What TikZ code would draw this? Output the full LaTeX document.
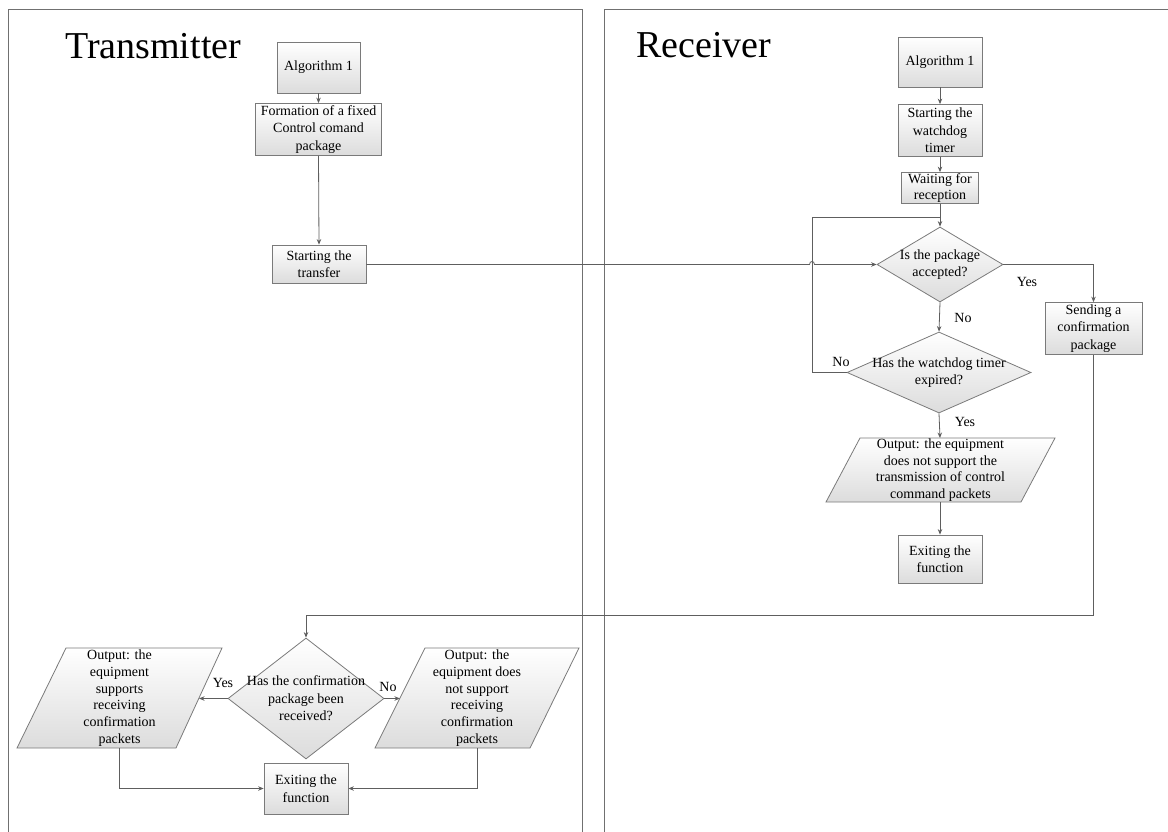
\documentclass[tikz,border=0pt]{standalone}
\usepackage{fontspec}
\setmainfont{Liberation Serif}
\usetikzlibrary{shapes.geometric,arrows.meta}
\definecolor{linegray}{HTML}{5E5E5E}
\definecolor{boxgray}{HTML}{7A7A7A}
\definecolor{shadegray}{HTML}{DCDCDC}
\definecolor{panelgray}{HTML}{707070}
\begin{document}
\begin{tikzpicture}[x=1pt,y=-1pt,
  fbase/.style={font=\fontsize{14}{17.5}\selectfont, align=center},
  fill shade/.style={draw=boxgray, line width=0.8pt, top color=white, bottom color=shadegray},
  box/.style={fbase, fill shade, rectangle, inner sep=0.5pt},
  dia/.style={fill shade, diamond, inner sep=0pt},
  txt/.style={fbase, inner sep=0pt},
  lbl/.style={font=\fontsize{14}{17}\selectfont, inner sep=0pt},
  title/.style={font=\fontsize{38}{45}\selectfont, inner sep=0pt, anchor=base west},
  conn/.style={draw=linegray, line width=0.8pt},
  arr/.style={conn, -{Stealth[length=5.5pt,width=4.5pt]}},
  panel/.style={draw=panelgray, line width=0.9pt}
]
\useasboundingbox (0,0) rectangle (1168,832);
\clip (0,0) rectangle (1168,832);

% panels
\draw[panel] (8,9) rectangle (582,850);
\draw[panel] (604,9) rectangle (1190,850);
\node[title] (ttitle) at (65,59) {Transmitter};
\node[title] (rtitle) at (636,58) {Receiver};

% transmitter top
\node[box, minimum width=83, minimum height=51] (tA) at (318.5,67.5) {Algorithm 1};
\node[box, minimum width=126, minimum height=52] (tF) at (318.5,129.5) {Formation of a fixed\\Control comand\\package};
\node[box, minimum width=94, minimum height=38] (tS) at (319,264) {Starting the\\transfer};

% receiver
\node[box, minimum width=84, minimum height=50] (rA) at (940,62) {Algorithm 1};
\node[box, minimum width=84, minimum height=52] (rW) at (940,130.5) {Starting the\\watchdog\\timer};
\node[box, font=\fontsize{14}{15.5}\selectfont, minimum width=77, minimum height=31] (rR) at (940,188) {Waiting for\\reception};
\node[dia, minimum width=126, minimum height=75] (rP) at (940,264.5) {};
\node[txt] at (rP) {Is the package\\accepted?};
\node[dia, minimum width=184, minimum height=81] (rT) at (939,372.5) {};
\node[txt] at (rT) {Has the watchdog timer\\expired?};
\node[box, minimum width=97, minimum height=52] (rC) at (1093.5,328.5) {Sending a\\confirmation\\package};
\path[fill shade] (860,438) -- (1055,438) -- (1021,502) -- (826,502) -- cycle;
\node[txt, font=\fontsize{14}{16.5}\selectfont] (rO) at (940.5,470) {Output: the equipment\\does not support the\\transmission of control\\command packets};
\coordinate (rOn) at (940,438);
\coordinate (rOs) at (940,502);
\node[box, minimum width=84, minimum height=48] (rE) at (940,559) {Exiting the\\function};

% transmitter bottom
\node[dia, minimum width=156, minimum height=121] (tD) at (306,698.5) {};
\node[txt] at (tD) {Has the confirmation\\package been\\received?};
\path[fill shade] (66,648) -- (222,648) -- (176,748) -- (17,748) -- cycle;
\node[txt, font=\fontsize{14}{16.7}\selectfont] (tY) at (119.5,698) {Output: the\\equipment\\supports\\receiving\\confirmation\\packets};
\coordinate (tYe) at (199,698.5);
\coordinate (tYs) at (119,748);
\path[fill shade] (425,648) -- (579,648) -- (530,748) -- (375,748) -- cycle;
\node[txt, font=\fontsize{14}{16.7}\selectfont] (tN) at (477,698) {Output: the\\equipment does\\not support\\receiving\\confirmation\\packets};
\coordinate (tNw) at (400,698.5);
\coordinate (tNs) at (477,748);
\node[box, minimum width=84, minimum height=51] (tE) at (306,788.5) {Exiting the\\function};

% coordinates
\coordinate (j) at (940,217);
\coordinate (lc) at (812,217);
\coordinate (k) at (1093.5,615);
\coordinate (hopA) at (809.5,264.5);
\coordinate (hopB) at (814.5,264.5);

% connectors transmitter
\draw[arr] (tA.south) -- (tF.north);
\draw[arr] (tF.south) -- (tS.north);
\draw[arr] (tS.east |- hopA) -- (hopA) .. controls (809.5,260.5) and (814.5,260.5) .. (hopB) -- (rP.west);

% receiver connectors
\draw[arr] (rA.south) -- (rW.north);
\draw[arr] (rW.south) -- (rR.north);
\draw[arr] (rR.south) -- (rP.north);
\draw[conn] (rT.west) -| (lc) -- (j);
\draw[arr] (rP.south) -- (rT.north);
\draw[arr] (rP.east) -| (rC.north);
\draw[arr] (rT.south) -- (rOn);
\draw[arr] (rOs) -- (rE.north);
\draw[arr] (rC.south) -- (k) -| (tD.north);

% bottom connectors
\draw[arr] (tD.west) -- (tYe);
\draw[arr] (tD.east) -- (tNw);
\draw[arr] (tYs) |- (tE.west);
\draw[arr] (tNs) |- (tE.east);

% labels
\node[lbl] (l1) at (1027,282) {Yes};
\node[lbl] (l2) at (963,318) {No};
\node[lbl] (l3) at (841,362) {No};
\node[lbl] (l4) at (965,422) {Yes};
\node[lbl] (l5) at (223,683) {Yes};
\node[lbl] (l6) at (388,687) {No};
\end{tikzpicture}
\end{document}
